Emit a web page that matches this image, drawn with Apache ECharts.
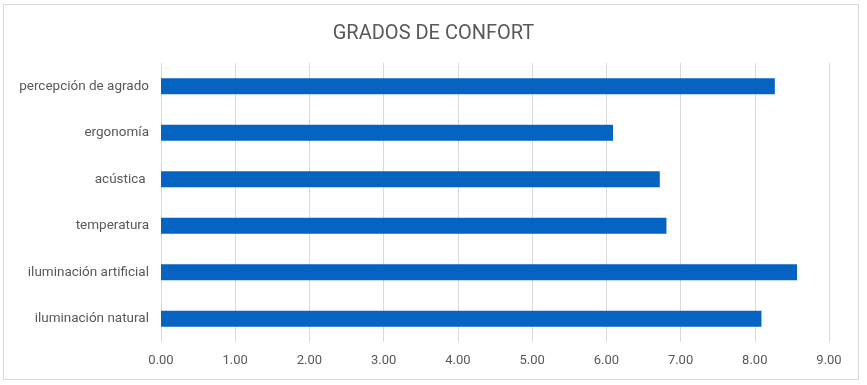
<!DOCTYPE html>
<html><head><meta charset="utf-8">
<script src="https://cdn.jsdelivr.net/npm/echarts@6/dist/echarts.min.js"></script>
<style>html,body{margin:0;padding:0;background:#fff}#c{width:867px;height:385px}</style>
</head><body><div id="c"></div>
<script>
const categories = ["percepción de agrado","ergonomía","acústica ","temperatura","iluminación artificial","iluminación natural"];
const values = [8.27, 6.09, 6.72, 6.81, 8.57, 8.09];
const xTicks = {min: 0, max: 9, interval: 1};
const titleText = "GRADOS DE CONFORT";

const FONT = 'Roboto, sans-serif';
const chart = echarts.init(document.getElementById('c'), null, {renderer:'canvas'});
chart.setOption({
  animation:false,
  backgroundColor:'#fff',
  graphic:[{type:'rect', shape:{x:3.5,y:4.5,width:855,height:375}, style:{fill:'none',stroke:'#d9d9d9',lineWidth:1}, z:-1}],
  title:{text:titleText, left:'center', top:19, textStyle:{fontFamily:FONT, fontWeight:'normal', fontSize:20, color:'#595959'}},
  grid:{left:161, right:38, top:63, bottom:43},
  xAxis:{type:'value', min:xTicks.min, max:xTicks.max, interval:xTicks.interval,
    axisLine:{show:false}, axisTick:{show:false},
    splitLine:{lineStyle:{color:'#d9d9d9', width:1}},
    axisLabel:{formatter:v=>v.toFixed(2), margin:12, fontFamily:FONT, fontSize:13, color:'#595959'}},
  yAxis:{type:'category', data:categories, inverse:true,
    axisLine:{show:false}, axisTick:{show:false},
    axisLabel:{margin:12, fontFamily:FONT, fontSize:13.5, color:'#595959'}},
  series:[{type:'bar', data:values, barWidth:16, itemStyle:{color:'#0563C1'}}]
});
</script></body></html>
